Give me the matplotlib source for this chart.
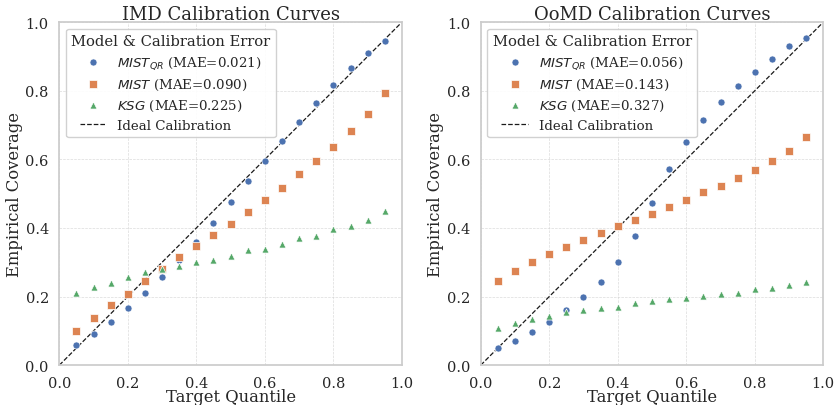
import numpy as np
import matplotlib
matplotlib.use("Agg")
import matplotlib.pyplot as plt
import seaborn as sns

sns.set_theme(style="whitegrid")
plt.rcParams["font.family"] = ["DejaVu Serif"]
plt.rcParams["mathtext.fontset"] = "dejavusans"

quantiles = [0.05, 0.10, 0.15, 0.20, 0.25, 0.30, 0.35, 0.40, 0.45, 0.50,
             0.55, 0.60, 0.65, 0.70, 0.75, 0.80, 0.85, 0.90, 0.95]

imd_mist_qr = [0.060, 0.092, 0.127, 0.167, 0.211, 0.258, 0.307, 0.359, 0.415, 0.475,
               0.536, 0.596, 0.655, 0.709, 0.763, 0.816, 0.865, 0.910, 0.945]
imd_mist = [0.100, 0.139, 0.175, 0.209, 0.245, 0.279, 0.314, 0.347, 0.380, 0.412,
            0.447, 0.482, 0.518, 0.556, 0.595, 0.636, 0.682, 0.732, 0.793]
imd_ksg = [0.210, 0.227, 0.241, 0.258, 0.271, 0.280, 0.290, 0.300, 0.307, 0.317,
           0.335, 0.340, 0.353, 0.370, 0.378, 0.396, 0.406, 0.422, 0.450]

oomd_mist_qr = [0.050, 0.071, 0.097, 0.126, 0.160, 0.198, 0.244, 0.302, 0.376, 0.472,
                0.572, 0.652, 0.716, 0.768, 0.813, 0.855, 0.894, 0.929, 0.955]
oomd_mist = [0.245, 0.276, 0.302, 0.325, 0.345, 0.366, 0.384, 0.405, 0.423, 0.442,
             0.462, 0.482, 0.504, 0.522, 0.546, 0.568, 0.595, 0.625, 0.665]
oomd_ksg = [0.108, 0.122, 0.136, 0.144, 0.154, 0.161, 0.166, 0.171, 0.181, 0.186,
            0.192, 0.196, 0.201, 0.209, 0.211, 0.221, 0.225, 0.233, 0.243]

imd_mae = [0.021, 0.090, 0.225]
oomd_mae = [0.056, 0.143, 0.327]

model_names = [r"$\mathit{MIST}_{QR}$", r"$\mathit{MIST}$", r"$\mathit{KSG}$"]
markers = ["o", "s", "^"]
colors = sns.color_palette("deep")[:3]

panels = [
    ("IMD Calibration Curves", [imd_mist_qr, imd_mist, imd_ksg], imd_mae),
    ("OoMD Calibration Curves", [oomd_mist_qr, oomd_mist, oomd_ksg], oomd_mae),
]

fig, axes = plt.subplots(1, 2, figsize=(8.35, 4.06), dpi=100)
fig.subplots_adjust(left=0.071, right=0.986, bottom=0.098, top=0.943, wspace=0.23)

for ax, (title, series, maes) in zip(axes, panels):
    for vals, name, mk, c, mae in zip(series, model_names, markers, colors, maes):
        ax.scatter(quantiles, vals, marker=mk, color=c, s=26, edgecolor="white",
                   linewidth=0.5, label=f"{name} (MAE={mae:.3f})", zorder=3)
    ax.plot([0, 1], [0, 1], "k--", linewidth=0.9, label="Ideal Calibration", zorder=2)
    ax.set_xlim(0, 1)
    ax.set_ylim(0, 1)
    ax.set_title(title, fontsize=13, pad=2)
    ax.set_xlabel("Target Quantile", fontsize=11.8, labelpad=-1)
    ax.set_ylabel("Empirical Coverage", fontsize=11.8, labelpad=2)
    ax.tick_params(labelsize=10.5, pad=1.5)
    ax.grid(True, linestyle="--", linewidth=0.5, alpha=0.7)
    leg = ax.legend(title="Model & Calibration Error", fontsize=9.6, title_fontsize=10.6,
                    loc="upper left", frameon=True, handletextpad=0.8, borderpad=0.4,
                    labelspacing=0.45)
    leg.get_frame().set_alpha(0.9)

plt.savefig("out.png", dpi=100)
